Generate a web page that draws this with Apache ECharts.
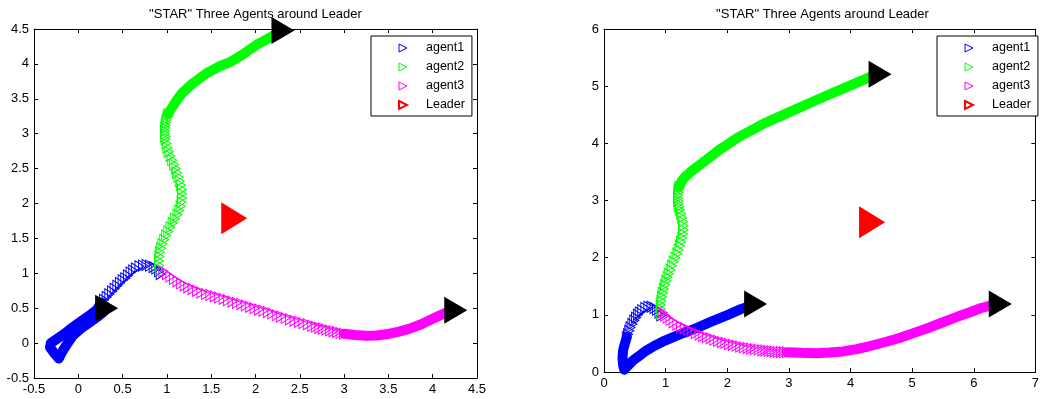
<!DOCTYPE html>
<html>
<head>
<meta charset="utf-8">
<script src="https://cdn.jsdelivr.net/npm/echarts@6/dist/echarts.min.js"></script>
<style>
  html, body { margin: 0; padding: 0; background: #fff; }
  #chart { width: 1042px; height: 399px; }
</style>
</head>
<body>
<div id="chart"></div>
<script>
// ---------- Run 1 (left panel) ----------
const leftXTicks = [-0.5, 0, 0.5, 1, 1.5, 2, 2.5, 3, 3.5, 4, 4.5];
const leftYTicks = [-0.5, 0, 0.5, 1, 1.5, 2, 2.5, 3, 3.5, 4, 4.5];

// agent positions where samples are far apart (individual markers)
const leftAgent1Sparse = [[0.93,0.99],[0.91,1.03],[0.88,1.07],[0.85,1.09],[0.81,1.11],[0.77,1.12],[0.73,1.11],[0.69,1.10],[0.65,1.07],[0.62,1.04],[0.59,1.01],[0.56,0.97],[0.53,0.93],[0.50,0.90],[0.47,0.86],[0.44,0.82],[0.41,0.78],[0.38,0.74],[0.35,0.70],[0.32,0.66],[0.29,0.62],[0.26,0.58]];
// agent positions where samples pile up into a solid trail (out to the corner and back)
const leftAgent1Dense = [[0.26,0.58],[0.21,0.48],[0.12,0.39],[0.03,0.31],[-0.06,0.23],[-0.15,0.14],[-0.24,0.06],[-0.31,0.00],[-0.32,-0.06],[-0.28,-0.13],[-0.22,-0.22],[-0.18,-0.12],[-0.13,-0.02],[-0.06,0.11],[0.03,0.21],[0.12,0.29],[0.21,0.37],[0.28,0.44],[0.32,0.50]];

const leftAgent2Sparse = [[0.92,1.05],[0.915,1.11],[0.91,1.18],[0.915,1.24],[0.92,1.30],[0.935,1.36],[0.95,1.42],[0.97,1.48],[0.99,1.54],[1.015,1.60],[1.04,1.66],[1.065,1.72],[1.09,1.78],[1.12,1.84],[1.14,1.90],[1.155,1.96],[1.165,2.02],[1.17,2.08],[1.17,2.14],[1.17,2.20],[1.16,2.26],[1.145,2.32],[1.13,2.38],[1.115,2.44],[1.10,2.50],[1.08,2.56],[1.06,2.62],[1.04,2.68],[1.02,2.74],[1.005,2.80],[0.995,2.86],[0.985,2.92],[0.982,2.96],[0.98,3.00],[0.98,3.04],[0.981,3.08],[0.984,3.12],[0.99,3.16],[0.997,3.20],[1.005,3.24],[1.015,3.28]];
const leftAgent2Dense = [[1.015,3.28],[1.03,3.32],[1.10,3.46],[1.17,3.58],[1.29,3.72],[1.44,3.86],[1.60,3.97],[1.72,4.03],[1.86,4.14],[2.02,4.28],[2.18,4.39],[2.31,4.48]];

const leftAgent3Sparse = [[0.96,1.03],[1.00,0.99],[1.04,0.955],[1.08,0.92],[1.12,0.885],[1.16,0.855],[1.20,0.825],[1.24,0.80],[1.29,0.775],[1.34,0.75],[1.39,0.725],[1.44,0.705],[1.49,0.69],[1.54,0.67],[1.59,0.655],[1.64,0.635],[1.69,0.615],[1.74,0.595],[1.79,0.575],[1.84,0.56],[1.89,0.54],[1.94,0.52],[1.99,0.50],[2.04,0.48],[2.09,0.465],[2.14,0.445],[2.19,0.425],[2.24,0.40],[2.29,0.38],[2.34,0.36],[2.39,0.34],[2.44,0.32],[2.49,0.305],[2.54,0.285],[2.59,0.27],[2.64,0.25],[2.68,0.235],[2.72,0.22],[2.76,0.207],[2.80,0.195],[2.84,0.182],[2.88,0.17],[2.92,0.158],[2.96,0.146],[3.00,0.135]];
const leftAgent3Dense = [[3.00,0.135],[3.12,0.115],[3.25,0.105],[3.37,0.11],[3.49,0.13],[3.62,0.165],[3.75,0.21],[3.87,0.27],[3.97,0.33],[4.07,0.39],[4.16,0.44],[4.26,0.47]];

const leftLeader = [1.76, 1.79];

// ---------- Run 2 (right panel) ----------
const rightXTicks = [0, 1, 2, 3, 4, 5, 6, 7];
const rightYTicks = [0, 1, 2, 3, 4, 5, 6];

const rightAgent1Sparse = [[0.93,0.99],[0.90,1.04],[0.86,1.09],[0.82,1.12],[0.77,1.14],[0.72,1.14],[0.67,1.12],[0.62,1.08],[0.58,1.04],[0.55,1.00],[0.52,0.95],[0.49,0.90],[0.46,0.84],[0.43,0.78],[0.41,0.72],[0.39,0.66],[0.37,0.61]];
const rightAgent1Dense = [[0.37,0.61],[0.34,0.50],[0.31,0.38],[0.30,0.25],[0.31,0.12],[0.33,0.04],[0.38,0.10],[0.47,0.20],[0.58,0.29],[0.68,0.37],[0.82,0.46],[0.95,0.53],[1.21,0.65],[1.48,0.76],[1.74,0.88],[2.01,1.00],[2.22,1.10],[2.46,1.19]];

const rightAgent2Sparse = [[0.92,1.03],[0.92,1.10],[0.92,1.17],[0.93,1.24],[0.94,1.31],[0.95,1.38],[0.97,1.45],[0.99,1.52],[1.01,1.59],[1.03,1.66],[1.05,1.72],[1.08,1.79],[1.10,1.86],[1.13,1.93],[1.16,2.00],[1.19,2.07],[1.21,2.14],[1.23,2.21],[1.25,2.28],[1.27,2.35],[1.28,2.42],[1.29,2.49],[1.29,2.56],[1.28,2.63],[1.27,2.70],[1.25,2.77],[1.23,2.84],[1.22,2.89],[1.21,2.94],[1.205,2.99],[1.20,3.04],[1.20,3.09],[1.205,3.14],[1.21,3.19],[1.22,3.24]];
const rightAgent2Dense = [[1.22,3.24],[1.26,3.34],[1.32,3.42],[1.45,3.54],[1.60,3.66],[1.85,3.87],[2.17,4.10],[2.60,4.35],[3.08,4.58],[3.56,4.81],[3.99,5.01],[4.36,5.18],[4.48,5.21]];

const rightAgent3Sparse = [[0.95,1.04],[0.99,0.99],[1.03,0.95],[1.08,0.91],[1.13,0.87],[1.19,0.83],[1.25,0.80],[1.31,0.77],[1.37,0.74],[1.43,0.71],[1.49,0.68],[1.55,0.655],[1.61,0.63],[1.67,0.61],[1.73,0.59],[1.79,0.565],[1.85,0.545],[1.91,0.525],[1.97,0.51],[2.03,0.49],[2.09,0.475],[2.15,0.46],[2.21,0.445],[2.27,0.43],[2.33,0.42],[2.39,0.41],[2.45,0.40],[2.51,0.39],[2.57,0.38],[2.62,0.375],[2.67,0.368],[2.72,0.362],[2.77,0.357],[2.82,0.352],[2.87,0.349],[2.92,0.347],[2.97,0.346]];
const rightAgent3Dense = [[2.97,0.346],[3.20,0.335],[3.45,0.33],[3.66,0.34],[3.88,0.36],[4.10,0.40],[4.30,0.45],[4.55,0.52],[4.78,0.59],[5.02,0.68],[5.26,0.77],[5.50,0.87],[5.74,0.97],[5.95,1.05],[6.12,1.12],[6.30,1.17],[6.43,1.19]];

const rightLeader = [4.35, 2.62];

const chartTitle = '"STAR" Three Agents around Leader';
const legendNames = ['agent1', 'agent2', 'agent3', 'Leader'];

// ---------- styling ----------
const FONT = '"Liberation Sans", Arial, Helvetica, sans-serif';
const TRI = 'path://M0,0L10,5L0,10Z';   // right-pointing triangle
const COLORS = { agent1: '#0000ff', agent2: '#00ff00', agent3: '#ff00ff', Leader: '#ff0000' };
const CLEAR = 'rgba(255,255,255,0)';

const panels = [
  { grid: { left: 34, top: 29, width: 443, height: 349 }, xTicks: leftXTicks, yTicks: leftYTicks,
    agents: { agent1: [leftAgent1Sparse, leftAgent1Dense], agent2: [leftAgent2Sparse, leftAgent2Dense], agent3: [leftAgent3Sparse, leftAgent3Dense] },
    leader: leftLeader, legendLeft: 371 },
  { grid: { left: 604, top: 29, width: 437, height: 343 }, xTicks: rightXTicks, yTicks: rightYTicks,
    agents: { agent1: [rightAgent1Sparse, rightAgent1Dense], agent2: [rightAgent2Sparse, rightAgent2Dense], agent3: [rightAgent3Sparse, rightAgent3Dense] },
    leader: rightLeader, legendLeft: 937 }
];

function valueAxis(ticks, gridIndex, position, withLabels) {
  return {
    type: 'value', gridIndex, position,
    min: ticks[0], max: ticks[ticks.length - 1], interval: ticks[1] - ticks[0],
    axisLine: { show: true, onZero: false, lineStyle: { color: '#000', width: 1 } },
    axisTick: { show: true, inside: true, length: 4, lineStyle: { color: '#000', width: 1 } },
    axisLabel: { show: withLabels, color: '#000', fontFamily: FONT, fontSize: 13, margin: 5,
                 showMinLabel: true, showMaxLabel: true },
    splitLine: { show: false }
  };
}

const option = {
  animation: false,
  backgroundColor: '#fff',
  title: [], grid: [], xAxis: [], yAxis: [], legend: [], series: []
};

panels.forEach((p, i) => {
  option.grid.push(Object.assign({ containLabel: false }, p.grid));
  option.title.push({
    text: chartTitle, left: p.grid.left + p.grid.width / 2, top: 8, padding: 0,
    textAlign: 'center',
    textStyle: { fontFamily: FONT, fontSize: 13, fontWeight: 'normal', color: '#000' }
  });
  option.xAxis.push(valueAxis(p.xTicks, i, 'bottom', true), valueAxis(p.xTicks, i, 'top', false));
  option.yAxis.push(valueAxis(p.yTicks, i, 'left', true), valueAxis(p.yTicks, i, 'right', false));
  const xi = 2 * i, yi = 2 * i;

  Object.keys(p.agents).forEach(name => {
    const [sparse, dense] = p.agents[name];
    const color = COLORS[name];
    option.series.push({
      type: 'scatter', name, xAxisIndex: xi, yAxisIndex: yi, data: sparse, clip: false,
      symbol: TRI, symbolSize: [9, 11],
      itemStyle: { color: CLEAR, borderColor: color, borderWidth: 1, opacity: 1 },
      emphasis: { disabled: true }, z: 3
    });
    option.series.push({
      type: 'line', name, xAxisIndex: xi, yAxisIndex: yi, data: dense, clip: false,
      symbol: 'none', showSymbol: false, smooth: false,
      lineStyle: { color, width: 10, cap: 'round', join: 'round', opacity: 1 },
      emphasis: { disabled: true }, z: 3
    });
  });

  // final positions of the three agents
  const finals = Object.keys(p.agents).map(n => { const d = p.agents[n][1]; return d[d.length - 1]; });
  option.series.push({
    type: 'scatter', name: 'final', xAxisIndex: xi, yAxisIndex: yi, data: finals, clip: false,
    symbol: TRI, symbolSize: [23, 27], itemStyle: { color: '#000', opacity: 1 },
    emphasis: { disabled: true }, z: 5
  });
  option.series.push({
    type: 'scatter', name: 'Leader', xAxisIndex: xi, yAxisIndex: yi, data: [p.leader], clip: false,
    symbol: TRI, symbolSize: [26, 32], itemStyle: { color: COLORS.Leader, opacity: 1 },
    emphasis: { disabled: true }, z: 5
  });

  option.legend.push({
    orient: 'vertical', left: p.legendLeft, top: 36,
    data: legendNames.map(n => ({
      name: n, icon: TRI,
      itemStyle: { color: CLEAR, borderColor: COLORS[n], borderWidth: n === 'Leader' ? 2 : 1, opacity: 1 }
    })),
    itemWidth: 8, itemHeight: 10, itemGap: 5,
    padding: [5, 7, 4, 27],
    borderColor: '#000', borderWidth: 1, backgroundColor: '#fff',
    selectedMode: false,
    textStyle: { fontFamily: FONT, fontSize: 12.5, color: '#000', lineHeight: 14, padding: [0, 0, 0, 14] },
    z: 6
  });
});

const chart = echarts.init(document.getElementById('chart'), null, { renderer: 'canvas' });
chart.setOption(option);
</script>
</body>
</html>
